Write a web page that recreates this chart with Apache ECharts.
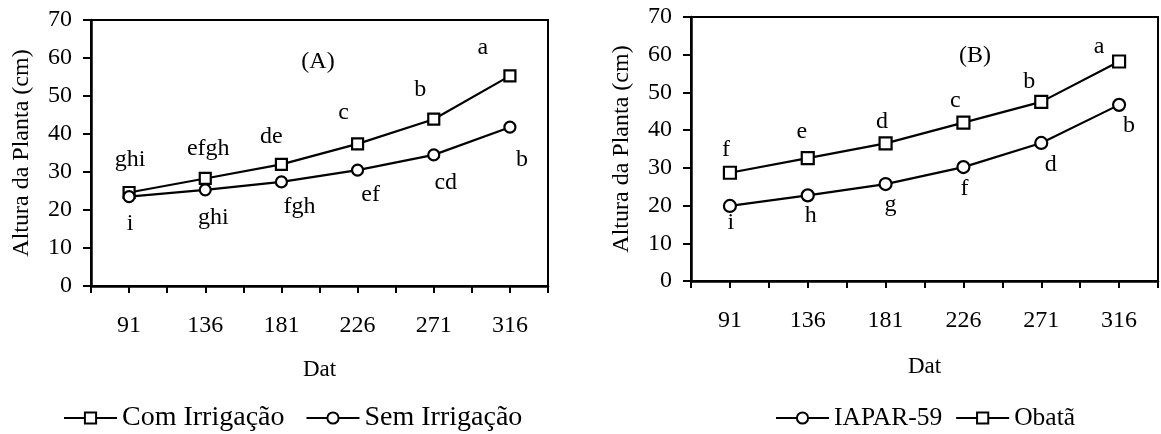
<!DOCTYPE html>
<html>
<head>
<meta charset="utf-8">
<script src="https://cdn.jsdelivr.net/npm/echarts@6/dist/echarts.min.js"></script>
<style>
html,body{margin:0;padding:0;background:#fff;}
#chart{width:1161px;height:434px;}
</style>
</head>
<body>
<div id="chart"></div>
<script>
// ---- data ----
const datCategories = [91, 136, 181, 226, 271, 316];
const comIrrigacao = [24.6, 28.3, 32.0, 37.4, 43.9, 55.3];
const semIrrigacao = [23.5, 25.3, 27.4, 30.5, 34.5, 41.8];
const obata = [28.7, 32.6, 36.5, 42.0, 47.5, 58.2];
const iapar59 = [19.9, 22.7, 25.7, 30.2, 36.6, 46.7];
const lettersCom = ['ghi', 'efgh', 'de', 'c', 'b', 'a'];
const lettersSem = ['i', 'ghi', 'fgh', 'ef', 'cd', 'b'];
const lettersObata = ['f', 'e', 'd', 'c', 'b', 'a'];
const lettersIapar = ['i', 'h', 'g', 'f', 'd', 'b'];
const yTicks = { min: 0, max: 70, interval: 10 };

// ---- layout (label placement, pixels) ----
const offCom = [[1,-32.5],[3,-30],[-10,-27.5],[-14,-31.2],[-13.5,-29.5],[-27,-28.2]];
const offSem = [[1,27.5],[8,27.5],[18,25],[13,25],[12,27.7],[12,32.7]];
const offObata = [[-4,-23.2],[-6,-26.5],[-3.5,-22],[-8,-21.5],[-12,-20],[-20,-15]];
const offIapar = [[1,16.5],[3,20],[5,21],[1,21.7],[9.4,21.3],[10,20.5]];

const FONT = 'Liberation Serif';
const step = datCategories[1] - datCategories[0];
const xMin = datCategories[0] - step / 2;
const xMax = datCategories[datCategories.length - 1] + step / 2;

function xAxis(gridIndex, nameGap) {
  return {
    type: 'value', gridIndex, min: xMin, max: xMax, interval: step / 2,
    name: 'Dat', nameLocation: 'middle', nameGap,
    nameTextStyle: { fontFamily: FONT, fontSize: 23, color: '#000' },
    axisLine: { show: true, onZero: false, lineStyle: { color: '#000', width: 2.5 } },
    axisTick: { show: true, length: 7, lineStyle: { color: '#000', width: 2 } },
    axisLabel: {
      margin: 28, fontFamily: FONT, fontSize: 24, color: '#000',
      formatter: v => datCategories.indexOf(Math.round(v * 10) / 10) >= 0 ? String(v) : ''
    },
    splitLine: { show: false }
  };
}
function yAxis(gridIndex) {
  return {
    type: 'value', gridIndex, min: yTicks.min, max: yTicks.max, interval: yTicks.interval,
    name: 'Altura da Planta (cm)', nameLocation: 'middle', nameGap: 57,
    nameTextStyle: { fontFamily: FONT, fontSize: 24, color: '#000' },
    axisLine: { show: true, onZero: false, lineStyle: { color: '#000', width: 2.5 } },
    axisTick: { show: true, length: 8, lineStyle: { color: '#000', width: 2 } },
    axisLabel: { margin: 19, fontFamily: FONT, fontSize: 24, color: '#000' },
    splitLine: { show: false }
  };
}
function series(name, values, letters, offsets, symbol, symbolSize, idx) {
  return {
    name, type: 'line', xAxisIndex: idx, yAxisIndex: idx,
    symbol, symbolSize,
    lineStyle: { color: '#000', width: 2.2 },
    itemStyle: { color: '#fff', borderColor: '#000', borderWidth: 2.2 },
    emphasis: { disabled: true },
    data: values.map((v, i) => ({
      value: [datCategories[i], v],
      label: {
        show: true, position: 'inside', offset: offsets[i],
        formatter: letters[i], fontFamily: FONT, fontSize: 24, color: '#000'
      }
    }))
  };
}

const chart = echarts.init(document.getElementById('chart'));
chart.setOption({
  animation: false,
  backgroundColor: '#fff',
  grid: [
    { left: 91, top: 20, width: 457, height: 266, show: true, borderColor: '#000', borderWidth: 2, backgroundColor: 'transparent' },
    { left: 691, top: 17, width: 469, height: 264, show: true, borderColor: '#000', borderWidth: 2, backgroundColor: 'transparent' }
  ],
  xAxis: [xAxis(0, 72), xAxis(1, 74)],
  yAxis: [yAxis(0), yAxis(1)],
  legend: [
    {
      data: ['Com Irrigação', 'Sem Irrigação'], left: 63, top: 404, padding: 0,
      itemWidth: 53, itemHeight: 14, itemGap: 21,
      textStyle: { fontFamily: FONT, fontSize: 28, color: '#000' }
    },
    {
      data: ['IAPAR-59', 'Obatã'], left: 775, top: 405, padding: 0,
      itemWidth: 53, itemHeight: 14, itemGap: 13,
      textStyle: { fontFamily: FONT, fontSize: 25.5, color: '#000' }
    }
  ],
  graphic: [
    { type: 'text', x: 318, y: 62, style: { text: '(A)', align: 'center', verticalAlign: 'middle', font: '24px "Liberation Serif"', fill: '#000' } },
    { type: 'text', x: 975, y: 56, style: { text: '(B)', align: 'center', verticalAlign: 'middle', font: '24px "Liberation Serif"', fill: '#000' } }
  ],
  series: [
    series('Com Irrigação', comIrrigacao, lettersCom, offCom, 'rect', 11, 0),
    series('Sem Irrigação', semIrrigacao, lettersSem, offSem, 'circle', 11, 0),
    series('Obatã', obata, lettersObata, offObata, 'rect', 12, 1),
    series('IAPAR-59', iapar59, lettersIapar, offIapar, 'circle', 12, 1)
  ]
});
</script>
</body>
</html>
